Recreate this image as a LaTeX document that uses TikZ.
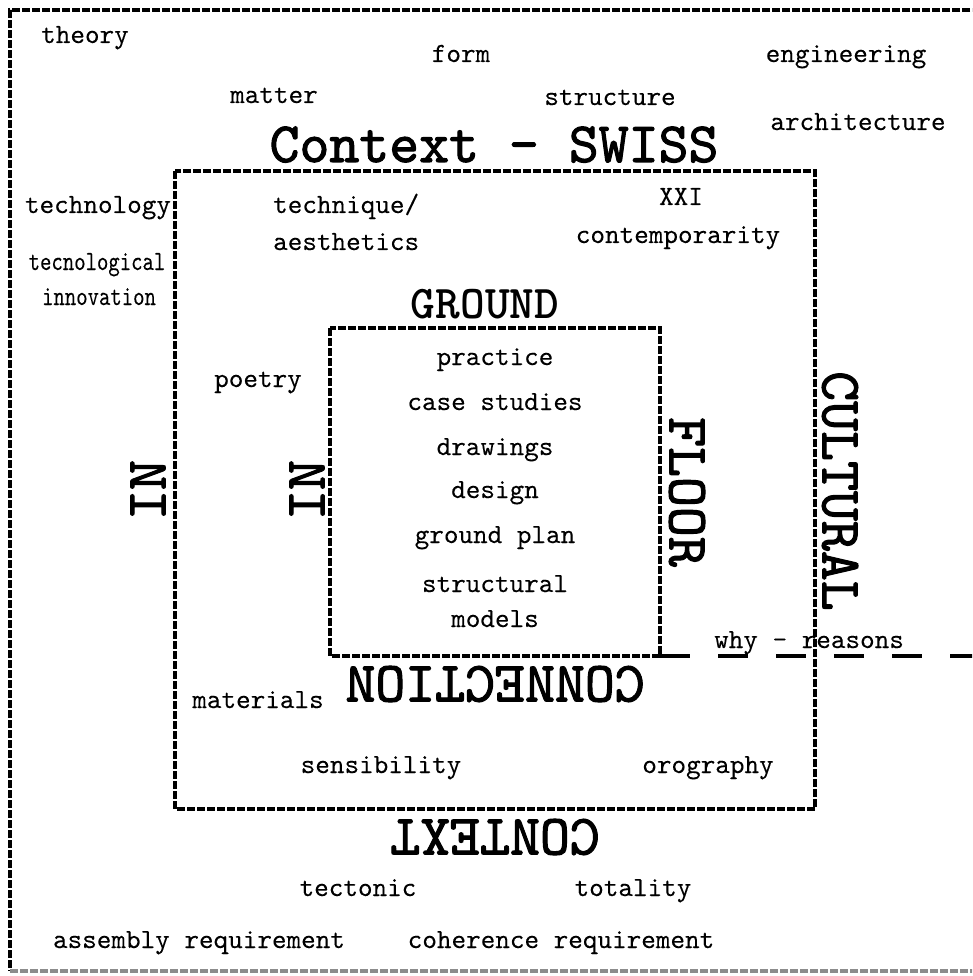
\documentclass[tikz,border=0pt]{standalone}
\usepackage{fontspec}
\newfontfamily\heavytt{lmmono10-regular}[Extension=.otf, FakeBold=1.8]
\newfontfamily\medtt{lmmono10-regular}[Extension=.otf, FakeBold=0.1]
\begin{document}
\begin{tikzpicture}[x=1pt,y=-1pt,
  frame/.style={line width=3.1pt, dash pattern=on 8pt off 2pt},
  longdash/.style={line width=3.1pt, dash pattern=on 30pt off 28pt},
  txt/.style={font=\medtt\fontsize{27.8}{30}\selectfont, inner sep=0pt, anchor=base},
  cond/.style={font=\medtt\fontsize{27.8}{30}\selectfont, inner sep=0pt, anchor=base, xscale=0.78, transform shape},
  big/.style={font=\heavytt\fontsize{57}{60}\selectfont, inner sep=0pt},
  bigb/.style={font=\ttfamily\bfseries\fontsize{47}{50}\selectfont, inner sep=0pt},
]
\useasboundingbox (0,0) rectangle (972,976);
\fill[white] (0,0) rectangle (972,976);
\begin{scope}
\clip (0,0) rectangle (972,976);
% outer frame
\coordinate (o1) at (10,10);
\coordinate (o2) at (990,10);
\coordinate (o3) at (10,971);
\coordinate (o4) at (990,971);
\draw[frame] (o2) -- (o1) -- (o3);
\draw[frame, black!45] (o3) -- (o4);
% middle and inner frames
\draw[frame] (175,171) rectangle (815,809);
\draw[frame] (330,328) rectangle (660,656);
% why - reasons line
\coordinate (wr0) at (660,656);
\coordinate (wr1) at (1000,656);
\draw[longdash] (wr0) -- (wr1);
\end{scope}

% outer texts
\node[txt] (theory) at (85,43) {theory};
\node[txt] (form) at (461,62) {form};
\node[txt] (engineering) at (846,62) {engineering};
\node[txt] (matter) at (274,103) {matter};
\node[txt] (structure) at (610,105) {structure};
\node[txt] (architecture) at (858,130) {architecture};
\node[big, anchor=base] (ctx) at (494,162) {Context - SWISS};
\node[txt] (technology) at (98,213) {technology};
\node[txt, anchor=base west] (technique) at (273,213) {technique/};
\node[txt, anchor=base west] (aesthetics) at (273,250) {aesthetics};
\node[txt] (xxi) at (681,205) {XXI};
\node[txt] (contemp) at (678,243) {contemporarity};
\begin{scope}[shift={(97,270)}]
\node[cond] (tecno) at (0,0) {tecnological};
\end{scope}
\begin{scope}[shift={(99,305)}]
\node[cond] (innov) at (0,0) {innovation};
\end{scope}
\node[bigb, anchor=base] (ground) at (485,318) {GROUND};
\node[txt] (poetry) at (258,387) {poetry};

% inner texts
\node[txt] (practice) at (495,365) {practice};
\node[txt] (case) at (495,410) {case studies};
\node[txt] (drawings) at (495,455) {drawings};
\node[txt] (design) at (495,498) {design};
\node[txt] (gplan) at (495,543) {ground plan};
\node[txt] (structural) at (495,592) {structural};
\node[txt] (models) at (495,627) {models};

% rotated labels
\node[big, rotate=90] (in1) at (148,490) {IN};
\node[big, rotate=90] (in2) at (307,490) {IN};
\node[big, rotate=-90] (floor) at (687,492) {FLOOR};
\node[big, rotate=-90] (cultural) at (840,491) {CULTURAL};
\node[txt] (why) at (809,648) {why - reasons};
\node[big, rotate=180] (connection) at (495,684) {CONNECTION};
\node[big, rotate=180] (context) at (495,837) {CONTEXT};

% lower texts
\node[txt] (materials) at (258,708) {materials};
\node[txt] (sensibility) at (381,773) {sensibility};
\node[txt] (orography) at (708,773) {orography};
\node[txt] (tectonic) at (358,896) {tectonic};
\node[txt] (totality) at (633,896) {totality};
\node[txt] (assembly) at (199,948) {assembly requirement};
\node[txt] (coherence) at (561,948) {coherence requirement};
\end{tikzpicture}
\end{document}
